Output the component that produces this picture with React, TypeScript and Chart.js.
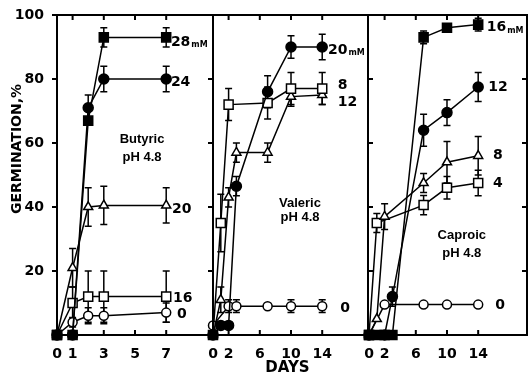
import React, { useEffect, useRef } from 'react';
import { Chart, registerables } from 'chart.js';

Chart.register(...registerables);

// ---------- Data ----------
const yTickValues = [20, 40, 60, 80, 100];

// Butyric, pH 4.8
const butyricTicks = [0, 1, 3, 5, 7];
const butyric28Days = [0, 1, 2, 3, 7];
const butyric28 = [0, 0, 67, 93, 93];
const butyric28Err = [0, 0, 0, 3, 3];
const butyric24Days = [0, 1, 2, 3, 7];
const butyric24 = [0, 0, 71, 80, 80];
const butyric24Err = [0, 0, 4, 4, 4];
const butyric20Days = [0, 1, 2, 3, 7];
const butyric20 = [0, 21, 40, 40.5, 40.5];
const butyric20Err = [0, 6, 6, 6, 5.5];
const butyric16Days = [0, 1, 2, 3, 7];
const butyric16 = [0, 10, 12, 12, 12];
const butyric16Err = [0, 5, 8, 8, 8];
const butyric0Days = [0, 1, 2, 3, 7];
const butyric0 = [0, 4, 6, 6, 7];
const butyric0Err = [0, 1.5, 2.5, 2.5, 3];

// Valeric, pH 4.8
const valericTicks = [0, 2, 6, 10, 14];
const valeric20Days = [0, 1, 2, 3, 7, 10, 14];
const valeric20 = [0, 3, 3, 46.5, 76, 90, 90];
const valeric20Err = [0, 0, 0, 3, 5, 3.5, 4];
const valeric8Days = [0, 1, 2, 7, 10, 14];
const valeric8 = [0, 35, 72, 72.5, 77, 77];
const valeric8Err = [0, 9, 5, 5, 5, 5];
const valeric12Days = [0, 1, 2, 3, 7, 10, 14];
const valeric12 = [0, 11, 43, 57, 57, 74.5, 75];
const valeric12Err = [0, 4, 3, 3, 3, 3, 3];
const valeric0Days = [0, 2, 3, 7, 10, 14];
const valeric0 = [3, 9, 9, 9, 9, 9];
const valeric0Err = [0, 2, 2, 0, 2, 2];

// Caproic, pH 4.8
const caproicTicks = [0, 2, 6, 10, 14];
const caproic16Days = [0, 1, 2, 3, 7, 10, 14];
const caproic16 = [0, 0, 0, 0, 93, 96, 97];
const caproic16Err = [0, 0, 0, 0, 2, 1, 2];
const caproic12Days = [0, 2, 3, 7, 10, 14];
const caproic12 = [0, 0, 12, 64, 69.5, 77.5];
const caproic12Err = [0, 0, 3, 5, 4, 4.5];
const caproic8Days = [0, 1, 2, 7, 10, 14];
const caproic8 = [0, 5, 37, 47.5, 54, 56];
const caproic8Err = [0, 0, 4, 3, 6.5, 6];
const caproic4Days = [0, 1, 7, 10, 14];
const caproic4 = [0, 35, 40.6, 46, 47.5];
const caproic4Err = [0, 3, 3, 3.5, 4];
const caproic0Days = [0, 2, 7, 10, 14];
const caproic0 = [0, 9.5, 9.5, 9.5, 9.5];
const caproic0Err = [0, 0, 0, 0, 0];

// ---------- Styles ----------
const MARKERS: any = {
  filledSquare: { pointStyle: 'rect', pointRadius: 6.4, fill: '#000' },
  filledCircle: { pointStyle: 'circle', pointRadius: 5, fill: '#000' },
  openTriangle: { pointStyle: 'triangle', pointRadius: 5.2, fill: '#fff' },
  openSquare: { pointStyle: 'rect', pointRadius: 6.4, fill: '#fff' },
  openCircle: { pointStyle: 'circle', pointRadius: 4.5, fill: '#fff' },
};

const TICK_FONT = { family: 'DejaVu Sans', weight: 'bold', size: 14 };

const panels: any[] = [
  {
    left: 0, width: 216, padL: 0, padR: 3, showY: true,
    xMin: 0, xMax: 10, xTicks: butyricTicks,
    leftTick: -1, rightTick: -1,
    series: [
      { days: butyric28Days, values: butyric28, errors: butyric28Err, marker: 'filledSquare' },
      { days: butyric24Days, values: butyric24, errors: butyric24Err, marker: 'filledCircle' },
      { days: butyric20Days, values: butyric20, errors: butyric20Err, marker: 'openTriangle' },
      { days: butyric16Days, values: butyric16, errors: butyric16Err, marker: 'openSquare' },
      { days: butyric0Days, values: butyric0, errors: butyric0Err, marker: 'openCircle' },
    ],
    notes: [
      { t: '28', unit: 'mM', x: 7.3, y: 91.5 },
      { t: '24', x: 7.3, y: 79 },
      { t: '20', x: 7.37, y: 39.4 },
      { t: '16', x: 7.44, y: 11.6 },
      { t: '0', x: 7.7, y: 6.3 },
    ],
    caption: { lines: ['Butyric', 'pH 4.8'], x: 5.45, y: [61.2, 55.6] },
    yTitle: true,
  },
  {
    left: 203, width: 175, padL: 10, padR: 10, showY: false,
    xMin: 0, xMax: 19.87, xTicks: valericTicks,
    leftTick: 0, rightTick: 1,
    series: [
      { days: valeric20Days, values: valeric20, errors: valeric20Err, marker: 'filledCircle' },
      { days: valeric8Days, values: valeric8, errors: valeric8Err, marker: 'openSquare' },
      { days: valeric12Days, values: valeric12, errors: valeric12Err, marker: 'openTriangle' },
      { days: valeric0Days, values: valeric0, errors: valeric0Err, marker: 'openCircle' },
    ],
    notes: [
      { t: '20', unit: 'mM', x: 14.74, y: 89 },
      { t: '8', x: 16.0, y: 78 },
      { t: '12', x: 16.0, y: 72.8 },
      { t: '0', x: 16.3, y: 8.4 },
    ],
    caption: { lines: ['Valeric', 'pH 4.8'], x: 11.15, y: [41.2, 36.6] },
    xTitle: 'DAYS',
  },
  {
    left: 358, width: 170, padL: 10, padR: 1, showY: false,
    xMin: -0.13, xMax: 20.26, xTicks: caproicTicks,
    leftTick: 0, rightTick: -1,
    series: [
      { days: caproic16Days, values: caproic16, errors: caproic16Err, marker: 'filledSquare' },
      { days: caproic12Days, values: caproic12, errors: caproic12Err, marker: 'filledCircle' },
      { days: caproic8Days, values: caproic8, errors: caproic8Err, marker: 'openTriangle' },
      { days: caproic4Days, values: caproic4, errors: caproic4Err, marker: 'openSquare' },
      { days: caproic0Days, values: caproic0, errors: caproic0Err, marker: 'openCircle' },
    ],
    notes: [
      { t: '16', unit: 'mM', x: 15.1, y: 96 },
      { t: '12', x: 15.3, y: 77.5 },
      { t: '8', x: 15.9, y: 56 },
      { t: '4', x: 15.9, y: 47.5 },
      { t: '0', x: 16.2, y: 9.4 },
    ],
    caption: { lines: ['Caproic', 'pH 4.8'], x: 11.9, y: [31, 25.6] },
  },
];

// ---------- Plugins ----------
const errorBarPlugin = {
  id: 'errorBars',
  beforeDatasetsDraw(chart: any) {
    const { ctx } = chart;
    const xs = chart.scales.x;
    const ys = chart.scales.y;
    ctx.save();
    ctx.strokeStyle = '#000';
    ctx.lineWidth = 1.5;
    chart.data.datasets.forEach((ds: any) => {
      const err = ds.errorBars;
      if (!err) return;
      ds.data.forEach((p: any, i: number) => {
        const e = err[i];
        if (!e) return;
        const x = xs.getPixelForValue(p.x);
        const y1 = ys.getPixelForValue(p.y + e);
        const y2 = ys.getPixelForValue(p.y - e);
        ctx.beginPath();
        ctx.moveTo(x, y1);
        ctx.lineTo(x, y2);
        ctx.moveTo(x - 3.5, y1);
        ctx.lineTo(x + 3.5, y1);
        ctx.moveTo(x - 3.5, y2);
        ctx.lineTo(x + 3.5, y2);
        ctx.stroke();
      });
    });
    ctx.restore();
  },
};

function makeFramePlugin(p: any) {
  return {
    id: 'frame',
    afterDraw(chart: any) {
      const { ctx, chartArea: a } = chart;
      const xs = chart.scales.x;
      const ys = chart.scales.y;
      ctx.save();
      ctx.strokeStyle = '#000';
      ctx.lineWidth = 2;
      ctx.strokeRect(a.left, a.top, a.right - a.left, a.bottom - a.top);
      ctx.beginPath();
      const tl = 5;
      p.xTicks.forEach((v: number) => {
        if (v === 0) return;
        const x = xs.getPixelForValue(v);
        ctx.moveTo(x, a.top);
        ctx.lineTo(x, a.top + tl);
        ctx.moveTo(x, a.bottom);
        ctx.lineTo(x, a.bottom - tl);
      });
      yTickValues.forEach((v) => {
        const y = ys.getPixelForValue(v);
        if (p.leftTick) {
          ctx.moveTo(a.left, y);
          ctx.lineTo(a.left + p.leftTick * tl, y);
        }
        if (p.rightTick) {
          ctx.moveTo(a.right, y);
          ctx.lineTo(a.right + p.rightTick * tl, y);
        }
      });
      ctx.stroke();
      ctx.restore();
    },
  };
}

function makeTextPlugin(p: any) {
  return {
    id: 'texts',
    afterDraw(chart: any) {
      const { ctx, chartArea: a } = chart;
      const xs = chart.scales.x;
      const ys = chart.scales.y;
      ctx.save();
      ctx.fillStyle = '#000';
      ctx.textBaseline = 'middle';
      ctx.textAlign = 'left';
      p.notes.forEach((n: any) => {
        const x = xs.getPixelForValue(n.x);
        const y = ys.getPixelForValue(n.y);
        ctx.font = 'bold 14px "DejaVu Sans"';
        ctx.textBaseline = 'middle';
        ctx.fillText(n.t, x, y);
        if (n.unit) {
          const w = ctx.measureText(n.t).width;
          ctx.font = 'bold 8px "DejaVu Sans"';
          ctx.textBaseline = 'alphabetic';
          ctx.fillText(n.unit, x + w + 1, y + 5);
        }
      });
      ctx.font = 'bold 13px "Liberation Sans"';
      ctx.textAlign = 'center';
      ctx.textBaseline = 'middle';
      const c = p.caption;
      c.lines.forEach((line: string, i: number) => {
        ctx.fillText(line, xs.getPixelForValue(c.x), ys.getPixelForValue(c.y[i]));
      });
      if (p.yTitle) {
        ctx.save();
        ctx.translate(17, 149);
        ctx.rotate(-Math.PI / 2);
        ctx.font = 'bold 14px "DejaVu Sans"';
        ctx.textAlign = 'center';
        ctx.textBaseline = 'middle';
        ctx.fillText('GERMINATION,%', 0, 0);
        ctx.restore();
      }
      if (p.xTitle) {
        ctx.font = 'bold 15px "DejaVu Sans"';
        ctx.textAlign = 'center';
        ctx.textBaseline = 'alphabetic';
        ctx.fillText(p.xTitle, (a.left + a.right) / 2 - 3, 372);
      }
      ctx.restore();
    },
  };
}

function buildConfig(p: any): any {
  return {
    type: 'line',
    data: {
      datasets: p.series.map((s: any) => {
        const m = MARKERS[s.marker];
        return {
          data: s.days.map((d: number, i: number) => ({ x: d, y: s.values[i] })),
          errorBars: s.errors,
          borderColor: '#000',
          borderWidth: 1.5,
          tension: 0,
          fill: false,
          pointStyle: m.pointStyle,
          pointRadius: m.pointRadius,
          pointBackgroundColor: m.fill,
          pointBorderColor: '#000',
          pointBorderWidth: 1.5,
          clip: false,
        };
      }),
    },
    options: {
      responsive: false,
      animation: false,
      devicePixelRatio: 1,
      layout: { autoPadding: false, padding: { left: p.padL, right: p.padR, top: 15, bottom: 0 } },
      plugins: { legend: { display: false }, tooltip: { enabled: false }, title: { display: false } },
      scales: {
        x: {
          type: 'linear',
          min: p.xMin,
          max: p.xMax,
          afterBuildTicks: (s: any) => {
            s.ticks = p.xTicks.map((v: number) => ({ value: v }));
          },
          afterFit: (s: any) => {
            s.height = 38;
          },
          grid: { display: false },
          border: { display: false },
          ticks: { color: '#000', font: TICK_FONT, padding: 3, maxRotation: 0, autoSkip: false },
        },
        y: {
          type: 'linear',
          min: 0,
          max: 100,
          display: p.showY,
          afterBuildTicks: (s: any) => {
            s.ticks = yTickValues.map((v) => ({ value: v }));
          },
          afterFit: (s: any) => {
            s.width = p.showY ? 57 : 0;
          },
          grid: { display: false },
          border: { display: false },
          ticks: { color: '#000', font: TICK_FONT, padding: 5 },
        },
      },
    },
    plugins: [errorBarPlugin, makeFramePlugin(p), makeTextPlugin(p)],
  };
}

function Panel({ p }: { p: any }) {
  const ref = useRef<HTMLCanvasElement>(null);
  useEffect(() => {
    if (!ref.current) return;
    const chart = new Chart(ref.current, buildConfig(p));
    return () => chart.destroy();
  }, [p]);
  return (
    <canvas
      ref={ref}
      width={p.width}
      height={373}
      style={{ position: 'absolute', left: p.left, top: 0, width: p.width, height: 373 }}
    />
  );
}

export default function App() {
  return (
    <div style={{ position: 'fixed', left: 0, top: 0, width: 528, height: 373, background: '#fff', overflow: 'hidden' }}>
      {panels.map((p, i) => (
        <Panel key={i} p={p} />
      ))}
    </div>
  );
}
